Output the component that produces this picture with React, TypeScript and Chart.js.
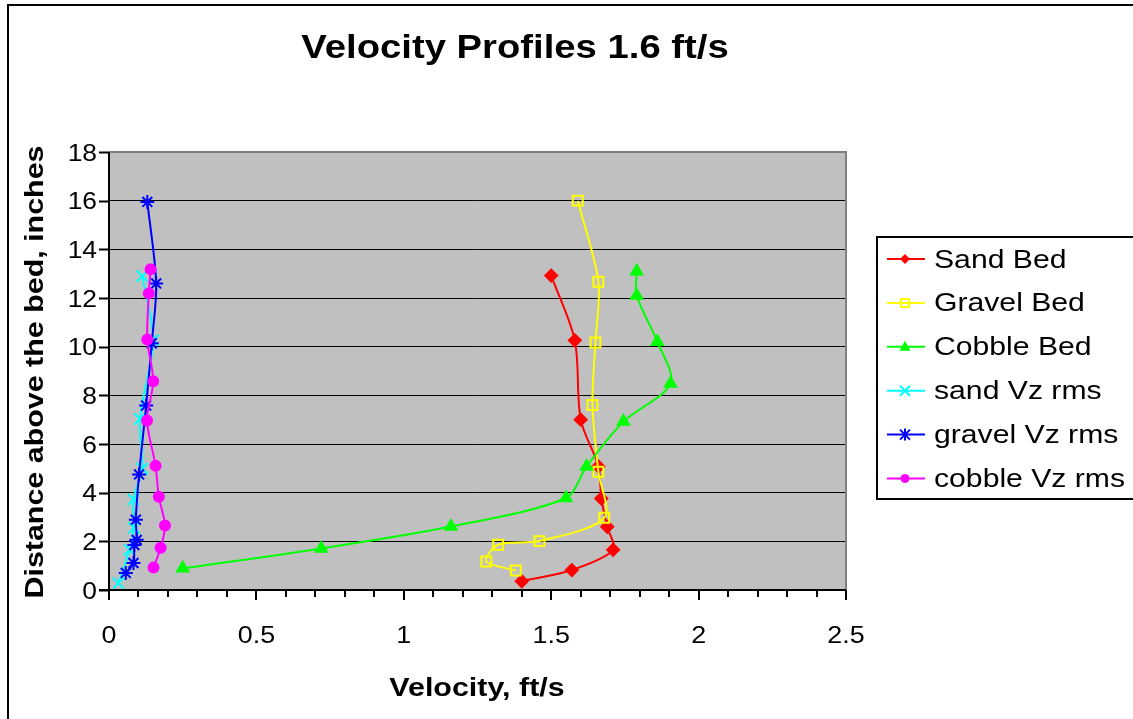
import React, { useEffect, useRef } from 'react';
import { Chart, registerables } from 'chart.js';

Chart.register(...registerables);

// ---- Data ----
const sandBedX = [1.40, 1.57, 1.71, 1.69, 1.67, 1.66, 1.60, 1.58, 1.50];
const sandBedY = [0.36, 0.82, 1.65, 2.60, 3.76, 5.08, 7.00, 10.26, 12.92];

const gravelBedX = [1.38, 1.28, 1.32, 1.46, 1.68, 1.66, 1.64, 1.65, 1.66, 1.59];
const gravelBedY = [0.80, 1.17, 1.86, 2.01, 2.97, 4.86, 7.60, 10.17, 12.67, 16.0];

const cobbleBedX = [0.25, 0.72, 1.16, 1.55, 1.62, 1.745, 1.905, 1.86, 1.79, 1.79];
const cobbleBedY = [0.89, 1.71, 2.61, 3.78, 5.08, 6.92, 8.49, 10.2, 12.1, 13.1];

const sandVzX = [0.032, 0.07, 0.085, 0.083, 0.112, 0.105, 0.15, 0.113];
const sandVzY = [0.28, 1.65, 2.55, 3.72, 4.99, 7.03, 10.27, 12.9];

const gravelVzX = [0.057, 0.083, 0.086, 0.094, 0.091, 0.102, 0.126, 0.145, 0.16, 0.13];
const gravelVzY = [0.70, 1.11, 1.85, 2.06, 2.89, 4.75, 7.58, 10.14, 12.6, 15.95];

const cobbleVzX = [0.151, 0.175, 0.19, 0.169, 0.158, 0.129, 0.15, 0.13, 0.135, 0.141];
const cobbleVzY = [0.92, 1.74, 2.65, 3.83, 5.11, 6.97, 8.58, 10.29, 12.19, 13.18];

const seriesNames = ['Sand Bed', 'Gravel Bed', 'Cobble Bed', 'sand Vz rms', 'gravel Vz rms', 'cobble Vz rms'];
const seriesColors = ['#FF0000', '#FFFF00', '#00FF00', '#00FFFF', '#0000FF', '#FF00FF'];
const seriesStyles = ['rectRot', 'rect', 'triangle', 'crossRot', 'star', 'circle'];
const seriesRadius = [6, 7, 6.5, 8, 7, 5];

const xTickValues = [0, 0.5, 1, 1.5, 2, 2.5];
const xTickLabels = ['0', '0.5', '1', '1.5', '2', '2.5'];
const yTickValues = [0, 2, 4, 6, 8, 10, 12, 14, 16, 18];
const yTickLabels = ['0', '2', '4', '6', '8', '10', '12', '14', '16', '18'];

const chartTitle = 'Velocity Profiles 1.6 ft/s';
const xTitle = 'Velocity, ft/s';
const yTitle = 'Distance above the bed, inches';

const FONT = '"Liberation Sans", Arial, sans-serif';

function toPoints(xs: number[], ys: number[]) {
  return xs.map((x, i) => ({ x, y: ys[i] }));
}

function stretchText(
  ctx: CanvasRenderingContext2D,
  text: string,
  x: number,
  y: number,
  font: string,
  sx: number,
  align: 'left' | 'center' | 'right'
) {
  ctx.save();
  ctx.font = font;
  ctx.textBaseline = 'alphabetic';
  ctx.textAlign = 'left';
  const w = ctx.measureText(text).width * sx;
  const left = align === 'center' ? x - w / 2 : align === 'right' ? x - w : x;
  ctx.translate(left, y);
  ctx.scale(sx, 1);
  ctx.fillStyle = '#000';
  ctx.fillText(text, 0, 0);
  ctx.restore();
}

function drawMarker(ctx: CanvasRenderingContext2D, style: string, x: number, y: number, color: string) {
  ctx.save();
  ctx.fillStyle = color;
  ctx.strokeStyle = color;
  ctx.lineWidth = 2;
  ctx.beginPath();
  if (style === 'rectRot') {
    const r = 5;
    ctx.moveTo(x, y - r);
    ctx.lineTo(x + r, y);
    ctx.lineTo(x, y + r);
    ctx.lineTo(x - r, y);
    ctx.closePath();
    ctx.fill();
  } else if (style === 'rect') {
    ctx.rect(x - 4, y - 4, 8, 8);
    ctx.stroke();
  } else if (style === 'triangle') {
    ctx.moveTo(x, y - 6);
    ctx.lineTo(x + 5.5, y + 4);
    ctx.lineTo(x - 5.5, y + 4);
    ctx.closePath();
    ctx.fill();
  } else if (style === 'crossRot') {
    const r = 5;
    ctx.moveTo(x - r, y - r);
    ctx.lineTo(x + r, y + r);
    ctx.moveTo(x + r, y - r);
    ctx.lineTo(x - r, y + r);
    ctx.stroke();
  } else if (style === 'star') {
    const r = 5;
    ctx.moveTo(x - r, y - r);
    ctx.lineTo(x + r, y + r);
    ctx.moveTo(x + r, y - r);
    ctx.lineTo(x - r, y + r);
    ctx.moveTo(x, y - r - 1);
    ctx.lineTo(x, y + r + 1);
    ctx.stroke();
  } else {
    ctx.arc(x, y, 4.5, 0, Math.PI * 2);
    ctx.fill();
  }
  ctx.restore();
}

const decorPlugin = {
  id: 'decor',
  beforeDraw(chart: any) {
    const { ctx, chartArea } = chart;
    ctx.save();
    ctx.fillStyle = '#FFFFFF';
    ctx.fillRect(0, 0, chart.width, chart.height);
    ctx.fillStyle = '#C0C0C0';
    ctx.fillRect(chartArea.left, chartArea.top, chartArea.right - chartArea.left, chartArea.bottom - chartArea.top);
    ctx.restore();
  },
  afterDraw(chart: any) {
    const { ctx, chartArea } = chart;
    const xs = chart.scales.x;
    const ys = chart.scales.y;
    const { left, right, top, bottom } = chartArea;
    ctx.save();

    // outer chart border
    ctx.strokeStyle = '#000';
    ctx.lineWidth = 2;
    ctx.beginPath();
    ctx.moveTo(8, 730);
    ctx.lineTo(8, 5);
    ctx.lineTo(1140, 5);
    ctx.stroke();

    // plot area top / right border
    ctx.strokeStyle = '#808080';
    ctx.lineWidth = 2;
    ctx.beginPath();
    ctx.moveTo(left, top);
    ctx.lineTo(right, top);
    ctx.lineTo(right, bottom);
    ctx.stroke();

    // axes
    ctx.strokeStyle = '#000';
    ctx.lineWidth = 2;
    ctx.beginPath();
    ctx.moveTo(left, top);
    ctx.lineTo(left, bottom + 10);
    ctx.moveTo(left - 10, bottom);
    ctx.lineTo(right, bottom);
    ctx.stroke();

    // y ticks
    ctx.lineWidth = 2;
    ctx.beginPath();
    yTickValues.forEach((v) => {
      const py = Math.round(ys.getPixelForValue(v)) + 0.5;
      ctx.moveTo(left - 10, py);
      ctx.lineTo(left, py);
    });
    ctx.stroke();

    // x ticks: minor every 0.1, major every 0.5
    ctx.beginPath();
    for (let i = 0; i <= 25; i++) {
      const v = i / 10;
      const px = Math.round(xs.getPixelForValue(v));
      const len = i % 5 === 0 ? 10 : 7;
      ctx.moveTo(px, bottom);
      ctx.lineTo(px, bottom + len);
    }
    ctx.stroke();

    // tick labels
    const tickFont = `24px ${FONT}`;
    yTickValues.forEach((v, i) => {
      const py = ys.getPixelForValue(v);
      stretchText(ctx, yTickLabels[i], 97, py + 8.6, tickFont, 1.1, 'right');
    });
    xTickValues.forEach((v, i) => {
      const px = xs.getPixelForValue(v);
      stretchText(ctx, xTickLabels[i], px, 643, tickFont, 1.12, 'center');
    });

    // titles
    stretchText(ctx, chartTitle, 515, 58, `bold 34px ${FONT}`, 1.125, 'center');
    stretchText(ctx, xTitle, 477, 696, `bold 26px ${FONT}`, 1.17, 'center');
    ctx.save();
    ctx.translate(43, 372);
    ctx.rotate(-Math.PI / 2);
    stretchText(ctx, yTitle, 0, 0, `bold 26px ${FONT}`, 1.17, 'center');
    ctx.restore();

    // legend box
    ctx.fillStyle = '#FFFFFF';
    ctx.fillRect(877, 237, 270, 262);
    ctx.strokeStyle = '#000';
    ctx.lineWidth = 2;
    ctx.strokeRect(877, 237, 270, 262);
    seriesNames.forEach((name, i) => {
      const cy = 259 + i * 43.9;
      ctx.strokeStyle = seriesColors[i];
      ctx.lineWidth = 2;
      ctx.beginPath();
      ctx.moveTo(887, cy);
      ctx.lineTo(925, cy);
      ctx.stroke();
      drawMarker(ctx, seriesStyles[i], 905, cy, seriesColors[i]);
      stretchText(ctx, name, 934, cy + 8.5, `26px ${FONT}`, 1.16, 'left');
    });

    ctx.restore();
  },
};

export default function App() {
  const canvasRef = useRef<HTMLCanvasElement | null>(null);

  useEffect(() => {
    const canvas = canvasRef.current;
    if (!canvas) return;
    const xsArr = [sandBedX, gravelBedX, cobbleBedX, sandVzX, gravelVzX, cobbleVzX];
    const ysArr = [sandBedY, gravelBedY, cobbleBedY, sandVzY, gravelVzY, cobbleVzY];
    const datasets = seriesNames.map((name, i) => ({
      label: name,
      data: toPoints(xsArr[i], ysArr[i]),
      showLine: true,
      borderColor: seriesColors[i],
      borderWidth: 2,
      tension: 0.3,
      pointStyle: seriesStyles[i],
      pointRadius: seriesRadius[i],
      pointBackgroundColor: seriesStyles[i] === 'rect' ? 'rgba(0,0,0,0)' : seriesColors[i],
      pointBorderColor: seriesColors[i],
      pointBorderWidth: 2,
      order: 10 - i,
      clip: false as any,
    }));

    const chart = new Chart(canvas, {
      type: 'scatter',
      data: { datasets },
      options: {
        responsive: false,
        animation: false,
        devicePixelRatio: 1,
        layout: { padding: { left: 0, top: 152, right: 287, bottom: 0 } },
        plugins: {
          legend: { display: false },
          title: { display: false },
          tooltip: { enabled: false },
        },
        scales: {
          x: {
            type: 'linear',
            min: 0,
            max: 2.5,
            ticks: { display: false, stepSize: 0.5 },
            grid: { display: false },
            border: { display: false },
            afterFit: (scale: any) => {
              scale.height = 129;
            },
          },
          y: {
            type: 'linear',
            min: 0,
            max: 18,
            ticks: { display: false, stepSize: 2 },
            grid: { display: true, color: '#000000', lineWidth: 1, drawTicks: false },
            border: { display: false },
            afterFit: (scale: any) => {
              scale.width = 109;
            },
          },
        },
      } as any,
      plugins: [decorPlugin],
    });
    return () => chart.destroy();
  }, []);

  return (
    <div style={{ position: 'fixed', left: 0, top: 0, width: 1133, height: 719 }}>
      <canvas ref={canvasRef} width={1133} height={719} style={{ display: 'block' }} />
    </div>
  );
}
